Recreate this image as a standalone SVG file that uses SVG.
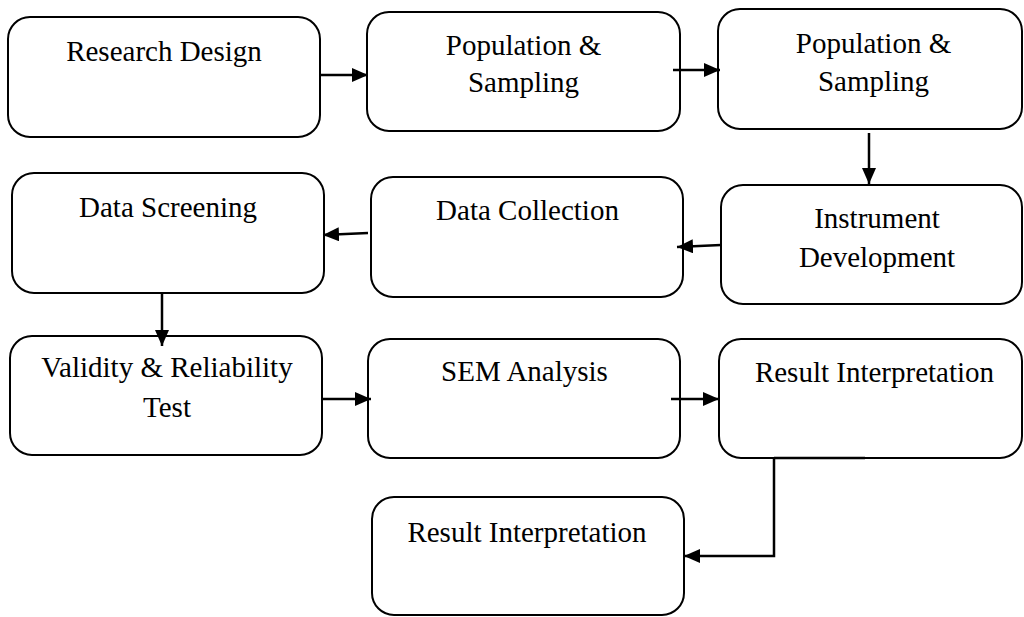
<svg xmlns="http://www.w3.org/2000/svg" width="1024" height="617" viewBox="0 0 1024 617">
<style>
.box{fill:#fff;stroke:#000;stroke-width:2}
.t{font-family:"Liberation Serif","Times New Roman",serif;font-size:29px;fill:#000;text-anchor:middle}
.c{fill:none;stroke:#000;stroke-width:2.5}
</style>
<defs>
<marker id="ah" markerUnits="userSpaceOnUse" markerWidth="16" markerHeight="14" refX="16" refY="7" orient="auto">
<path d="M0,0 L16,7 L0,14 Z" fill="#000"/>
</marker>
</defs>
<rect width="1024" height="617" fill="#fff"/>
<g id="n1"><rect class="box" x="8" y="17" width="312" height="120" rx="22"/><text class="t" x="164" y="61">Research Design</text></g>
<g id="n2"><rect class="box" x="367" y="12" width="313" height="119" rx="22"/><text class="t" x="523.5" y="55">Population &amp;</text><text class="t" x="523.5" y="92">Sampling</text></g>
<g id="n3"><rect class="box" x="718" y="9" width="304" height="120" rx="22"/><text class="t" x="873.5" y="53">Population &amp;</text><text class="t" x="873.5" y="91">Sampling</text></g>
<g id="n4"><rect class="box" x="721" y="185" width="301" height="119" rx="22"/><text class="t" x="877" y="228">Instrument</text><text class="t" x="877" y="267">Development</text></g>
<g id="n5"><rect class="box" x="371" y="177" width="312" height="120" rx="22"/><text class="t" x="527.5" y="220">Data Collection</text></g>
<g id="n6"><rect class="box" x="12" y="173" width="312" height="120" rx="22"/><text class="t" x="168" y="217">Data Screening</text></g>
<g id="n7"><rect class="box" x="10" y="336" width="312" height="119" rx="22"/><text class="t" x="167" y="377">Validity &amp; Reliability</text><text class="t" x="167" y="417">Test</text></g>
<g id="n8"><rect class="box" x="368" y="339" width="312" height="119" rx="22"/><text class="t" x="524.5" y="381">SEM Analysis</text></g>
<g id="n9"><rect class="box" x="719" y="339" width="303" height="119" rx="22"/><text class="t" x="874.5" y="382">Result Interpretation</text></g>
<g id="n10"><rect class="box" x="372" y="497" width="312" height="118" rx="22"/><text class="t" x="527" y="542">Result Interpretation</text></g>
<g id="connectors">
<line class="c" x1="320" y1="75" x2="368" y2="75" marker-end="url(#ah)"/>
<line class="c" x1="673" y1="70" x2="720" y2="70" marker-end="url(#ah)"/>
<line class="c" x1="869" y1="133" x2="869" y2="184" marker-end="url(#ah)"/>
<line class="c" x1="721" y1="245" x2="677" y2="247" marker-end="url(#ah)"/>
<line class="c" x1="368" y1="233" x2="323" y2="235" marker-end="url(#ah)"/>
<line class="c" x1="162" y1="293" x2="162" y2="346" marker-end="url(#ah)"/>
<line class="c" x1="323" y1="399" x2="371" y2="399" marker-end="url(#ah)"/>
<line class="c" x1="671" y1="399" x2="719" y2="399" marker-end="url(#ah)"/>
<line class="c" x1="774" y1="458" x2="865" y2="458"/>
<polyline class="c" points="774,458 774,556 684,556" marker-end="url(#ah)"/>
</g>
</svg>
